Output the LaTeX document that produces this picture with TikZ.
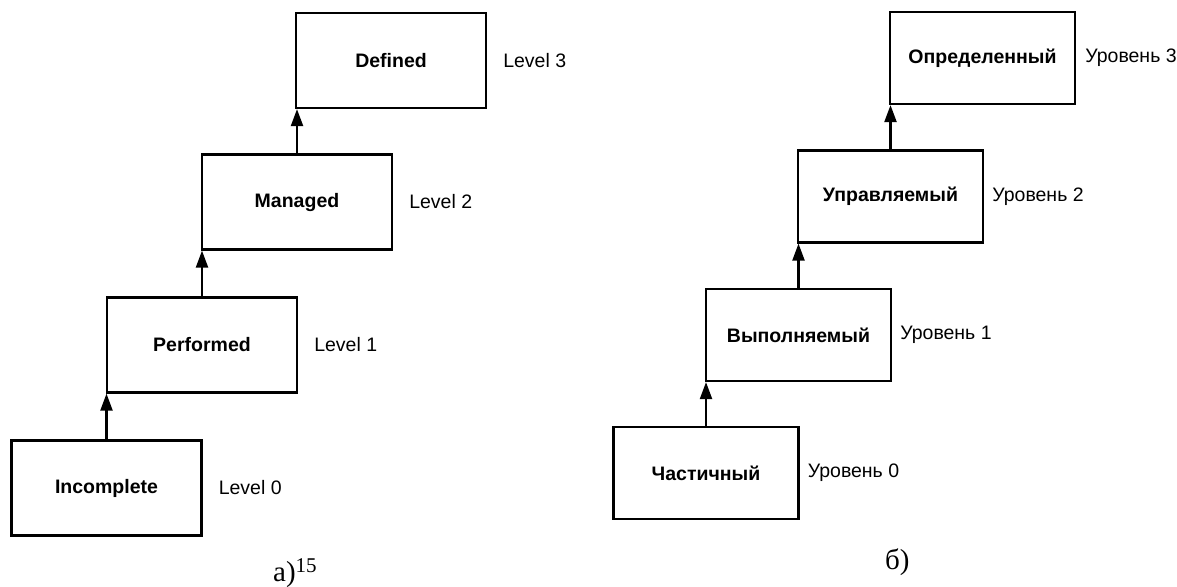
\documentclass[tikz,border=0pt]{standalone}
\usepackage{fontspec}
\setmainfont{Liberation Sans}
\newfontfamily\capfont{Liberation Serif}
\usetikzlibrary{arrows.meta}
\begin{document}
\begin{tikzpicture}[x=1pt,y=-1pt,
  levelbox/.style={draw, line width=2.2pt, rectangle, inner sep=0pt,
    font=\fontsize{19.5}{23}\selectfont\bfseries},
  engbox/.style={levelbox, minimum width=190pt, minimum height=95pt},
  rusbox/.style={levelbox, minimum width=185pt, minimum height=92pt},
  lvl/.style={anchor=west, inner sep=0pt, font=\fontsize{19.5}{23}\selectfont},
  up/.style={line width=2.2pt, -{Triangle[length=17pt,width=12pt]}},
  caption/.style={anchor=base west, inner sep=0pt, font=\capfont\fontsize{29}{32}\selectfont}]
\useasboundingbox (0,0) rectangle (1177,586);

% English levels
\node[engbox] (inc)  at (106.5,488) {Incomplete};
\node[engbox] (perf) at (202,345)   {Performed};
\node[engbox] (man)  at (297,202)   {Managed};
\node[engbox] (def)  at (391,60.5)  {Defined};

\node[lvl] (l0) at ([xshift=16pt]inc.east)  {Level 0};
\node[lvl] (l1) at ([xshift=16pt]perf.east) {Level 1};
\node[lvl] (l2) at ([xshift=16pt]man.east)  {Level 2};
\node[lvl] (l3) at ([xshift=16pt]def.east)  {Level 3};

\draw[up] (inc.north)  -- (inc.north  |- perf.south);
\draw[up] (perf.north) -- (perf.north |- man.south);
\draw[up] (man.north)  -- (man.north  |- def.south);

\node[caption] (capa) at (273,581) {a)\raisebox{9pt}{\fontsize{21}{21}\selectfont 15}};

% Russian levels
\node[rusbox] (chast) at (706,473)   {Частичный};
\node[rusbox] (vyp)   at (798.5,335) {Выполняемый};
\node[rusbox] (upr)   at (890.5,196.5) {Управляемый};
\node[rusbox] (opr)   at (982.5,58)  {Определенный};

\node[lvl] (u0) at ([xshift=8pt]chast.east) {Уровень 0};
\node[lvl] (u1) at ([xshift=8pt]vyp.east)   {Уровень 1};
\node[lvl] (u2) at ([xshift=8pt]upr.east)   {Уровень 2};
\node[lvl] (u3) at ([xshift=9pt]opr.east)   {Уровень 3};

\draw[up] (chast.north) -- (chast.north |- vyp.south);
\draw[up] (vyp.north)   -- (vyp.north   |- upr.south);
\draw[up] (upr.north)   -- (upr.north   |- opr.south);

\node[caption] (capb) at (885,569) {б)};
\end{tikzpicture}
\end{document}
